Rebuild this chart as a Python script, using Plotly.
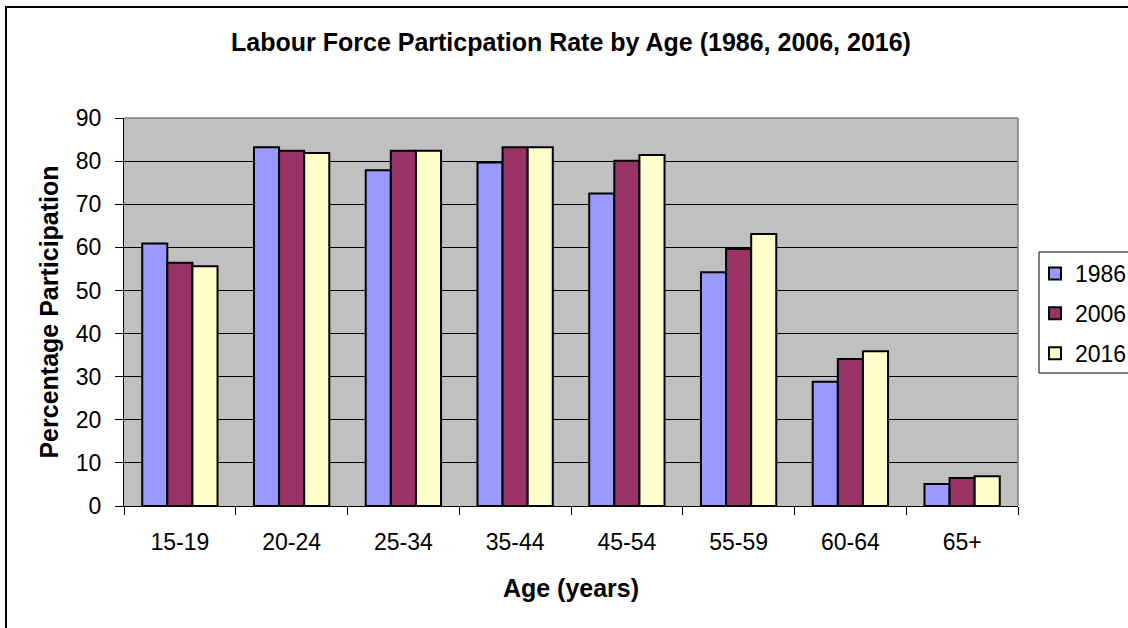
import plotly.graph_objects as go

# Labour force participation rate (%) by age group
age_groups = ["15-19", "20-24", "25-34", "35-44", "45-54", "55-59", "60-64", "65+"]
rate_1986 = [60.9, 83.2, 77.9, 79.7, 72.5, 54.2, 28.8, 5.1]
rate_2006 = [56.4, 82.4, 82.4, 83.2, 80.1, 59.6, 34.1, 6.5]
rate_2016 = [55.6, 81.9, 82.4, 83.2, 81.4, 63.1, 35.9, 6.9]

series = [
    ("1986", rate_1986, "#9999FF"),
    ("2006", rate_2006, "#993366"),
    ("2016", rate_2016, "#FFFFCC"),
]

FONT = "Arial, 'Liberation Sans', sans-serif"
W, H = 1128, 628
L, R, T, B = 124, 110, 118, 122

fig = go.Figure()
for i, (name, vals, color) in enumerate(series):
    fig.add_trace(go.Bar(
        x=age_groups, y=vals, name=name, legendgroup=f"g{i}",
        marker=dict(color=color, line=dict(color="#000000", width=2)),
    ))

# pixel -> paper helpers for frame decorations
pw, ph = W - L - R, H - T - B
def px(x):
    return (x - L) / pw
def py(y):
    return (H - B - y) / ph

fig.update_layout(
    width=W, height=H,
    margin=dict(l=L, r=R, t=T, b=B, pad=0),
    paper_bgcolor="#FFFFFF",
    plot_bgcolor="#C0C0C0",
    barmode="group", bargap=0.326, bargroupgap=0,
    font=dict(family=FONT, size=23, color="#000000"),
    title=dict(
        text="<b>Labour Force Particpation Rate by Age (1986, 2006, 2016)</b>",
        x=0.5, xref="paper", xanchor="center",
        y=1 - 42 / H, yref="container", yanchor="middle",
        font=dict(family=FONT, size=25, color="#000000"),
    ),
    legend=dict(
        x=1035 / W, xref="container", xanchor="left",
        y=1 - 252 / H, yref="container", yanchor="top",
        bgcolor="rgba(0,0,0,0)", borderwidth=0,
        font=dict(family=FONT, size=23, color="#000000"),
        tracegroupgap=7, itemclick=False,
    ),
    showlegend=True,
    xaxis=dict(
        type="category",
        showline=True, linecolor="#000000", linewidth=1,
        ticks="outside", tickson="boundaries", ticklen=8, tickcolor="#000000",
        showgrid=False,
        tickfont=dict(family=FONT, size=23),
        ticklabelstandoff=15,
        title=dict(text="<b>Age (years)</b>", font=dict(family=FONT, size=25), standoff=25),
    ),
    yaxis=dict(
        range=[0, 90], dtick=10, tick0=0,
        showline=True, linecolor="#000000", linewidth=1,
        ticks="outside", ticklen=8, tickcolor="#000000",
        showgrid=True, gridcolor="#000000", gridwidth=1,
        zeroline=False,
        tickfont=dict(family=FONT, size=23),
        ticklabelstandoff=9,
        title=dict(text="<b>Percentage Participation</b>", font=dict(family=FONT, size=25), standoff=10),
    ),
    shapes=[
        # grey plot-area edges on the top and right
        dict(type="line", xref="paper", yref="paper", x0=0, x1=1, y0=1, y1=1,
             line=dict(color="#808080", width=1.5)),
        dict(type="line", xref="paper", yref="paper", x0=1, x1=1, y0=0, y1=1,
             line=dict(color="#808080", width=1.5)),
        # legend box
        dict(type="rect", xref="paper", yref="paper",
             x0=px(1039), x1=px(1145), y0=py(373), y1=py(252),
             line=dict(color="#000000", width=1), fillcolor="#FFFFFF", layer="below"),
        # outer chart frame
        dict(type="rect", xref="paper", yref="paper",
             x0=px(6), x1=px(1140), y0=py(640), y1=py(7),
             line=dict(color="#000000", width=2), fillcolor="rgba(0,0,0,0)"),
    ],
)

fig.write_html("out.html")
